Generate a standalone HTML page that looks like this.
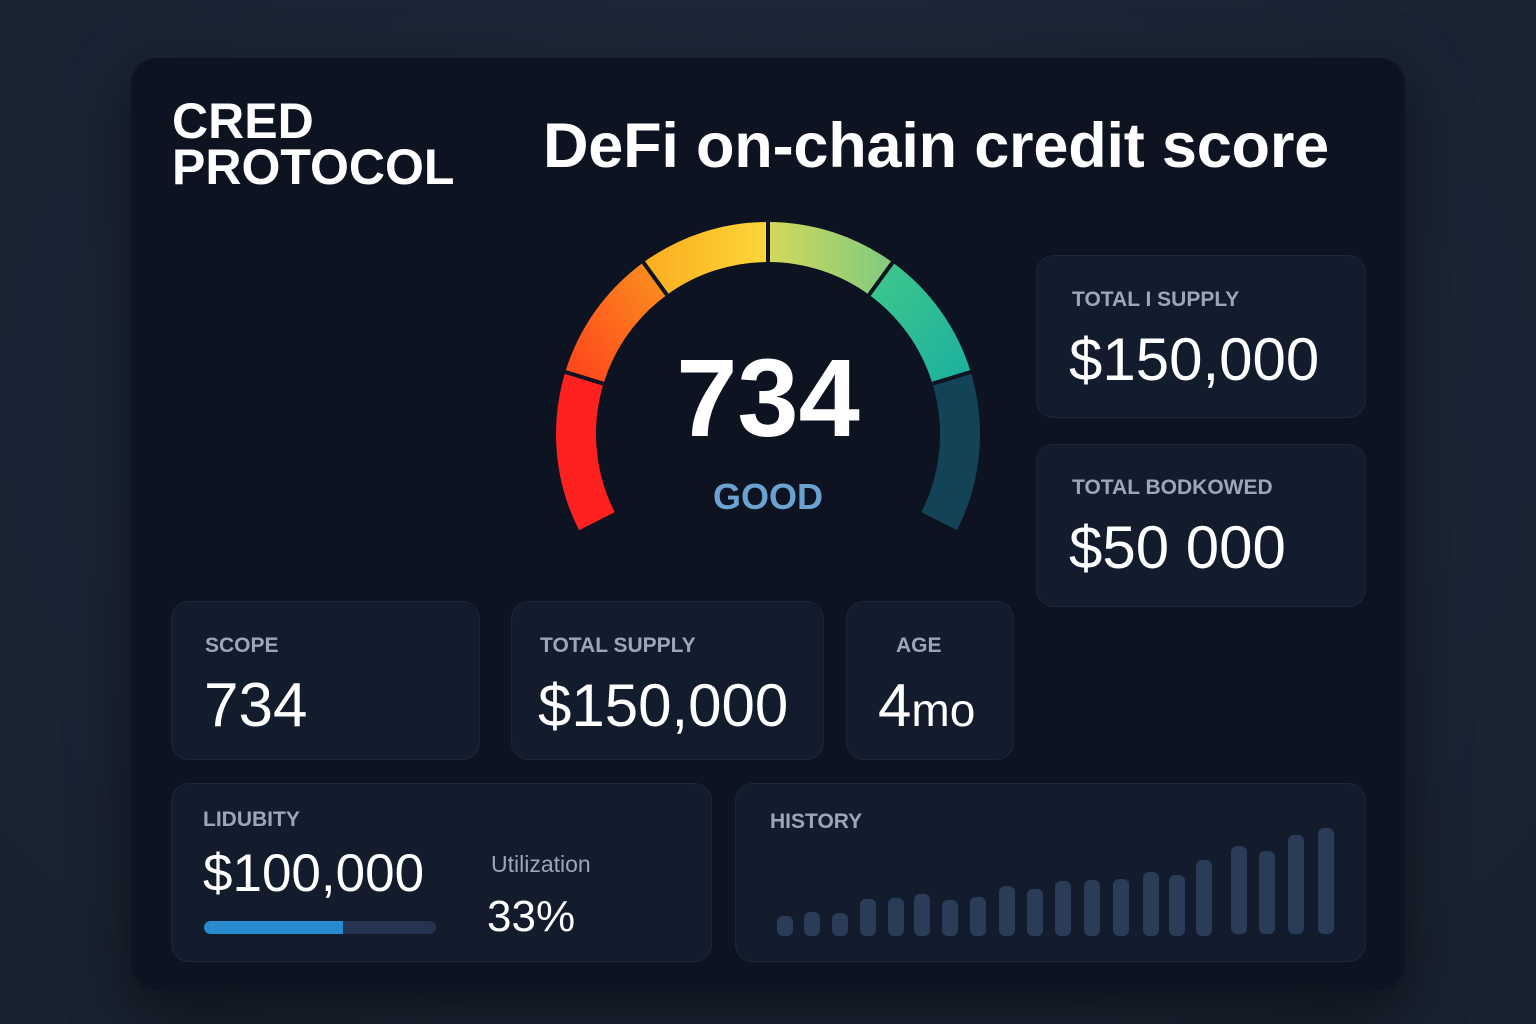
<!DOCTYPE html>
<html><head><meta charset="utf-8"><style>
*{margin:0;padding:0;box-sizing:border-box}
body{width:1536px;height:1024px;overflow:hidden;background:radial-gradient(ellipse at 50% 40%,#222d3e 0%,#1b2535 60%,#18212f 100%);font-family:"Liberation Sans",sans-serif;position:relative}
.main{position:absolute;left:131px;top:58px;width:1274px;height:932px;background:#0d1320;border-radius:26px;box-shadow:0 20px 60px rgba(0,0,0,.5)}
.c{position:absolute;background:#131c2c;border:1px solid #1d2739;border-radius:18px}
.t{position:absolute;white-space:nowrap}
.lab{color:#9ba6b6;font-weight:bold;font-size:21px}
.val{color:#fff;font-size:58px}
</style></head><body>
<div class="main"></div>
<div class="t" style="left:172px;top:98px;color:#fff;font-weight:bold;font-size:50px;line-height:46px">CRED<br>PROTOCOL</div>
<div class="t" style="left:543px;top:110px;color:#fff;font-size:63px;font-weight:bold;letter-spacing:-0.2px">DeFi on-chain credit score</div>

<svg style="position:absolute;left:0;top:0" width="1536" height="1024">
<defs>
<linearGradient id="g1" x1="0" y1="1" x2="1" y2="0"><stop offset="0" stop-color="#ff4a1c"/><stop offset="1" stop-color="#fb8a1f"/></linearGradient>
<linearGradient id="g2" x1="0" y1="0" x2="1" y2="0"><stop offset="0" stop-color="#fbb022"/><stop offset="1" stop-color="#fcd63a"/></linearGradient>
<linearGradient id="g3" x1="0" y1="0" x2="1" y2="0"><stop offset="0" stop-color="#d3d95a"/><stop offset="1" stop-color="#86cc7c"/></linearGradient>
<linearGradient id="g4" x1="0" y1="0" x2="1" y2="1"><stop offset="0" stop-color="#3cc58c"/><stop offset="1" stop-color="#1fb39e"/></linearGradient>
</defs>
<g fill="none" stroke-width="40">
<path d="M596.9 521.2 A192 192 0 0 1 584.4 377.9" stroke="#ff2020"/>
<path d="M584.4 377.9 A192 192 0 0 1 655.1 278.7" stroke="url(#g1)"/>
<path d="M655.1 278.7 A192 192 0 0 1 768 242" stroke="url(#g2)"/>
<path d="M768 242 A192 192 0 0 1 880.9 278.7" stroke="url(#g3)"/>
<path d="M880.9 278.7 A192 192 0 0 1 951.6 377.9" stroke="url(#g4)"/>
<path d="M951.6 377.9 A192 192 0 0 1 939.1 521.2" stroke="#134357"/>
</g>
<g stroke="#0d1320" stroke-width="4">
<line x1="603.5" y1="383.7" x2="563.3" y2="371.4"/>
<line x1="666.9" y1="294.8" x2="642.2" y2="260.8"/>
<line x1="768" y1="262" x2="768" y2="220"/>
<line x1="869.1" y1="294.8" x2="893.8" y2="260.8"/>
<line x1="932.5" y1="383.7" x2="972.7" y2="371.4"/>
</g>
<text x="768" y="436" text-anchor="middle" fill="#fff" font-family="Liberation Sans" font-size="110" font-weight="bold">734</text>
<text x="768" y="509" text-anchor="middle" fill="#6aa2d2" font-family="Liberation Sans" font-size="36" font-weight="bold">GOOD</text>
</svg>

<div class="c" style="left:1036px;top:255px;width:330px;height:163px"></div>
<div class="t lab" style="left:1072px;top:288px">TOTAL I SUPPLY</div>
<div class="t val" style="left:1069px;top:325px;font-size:60px">$150,000</div>
<div class="c" style="left:1036px;top:444px;width:330px;height:163px"></div>
<div class="t lab" style="left:1072px;top:476px">TOTAL BODKOWED</div>
<div class="t val" style="left:1069px;top:513px;font-size:60px">$50 000</div>

<div class="c" style="left:171px;top:601px;width:309px;height:159px"></div>
<div class="t lab" style="left:205px;top:634px">SCOPE</div>
<div class="t val" style="left:204px;top:670px;font-size:62px">734</div>
<div class="c" style="left:511px;top:601px;width:313px;height:159px"></div>
<div class="t lab" style="left:540px;top:634px">TOTAL SUPPLY</div>
<div class="t val" style="left:538px;top:671px;font-size:60px">$150,000</div>
<div class="c" style="left:846px;top:601px;width:168px;height:159px"></div>
<div class="t lab" style="left:896px;top:634px">AGE</div>
<div class="t val" style="left:878px;top:671px;font-size:60px">4<span style="font-size:46px">mo</span></div>

<div class="c" style="left:171px;top:783px;width:541px;height:179px"></div>
<div class="t lab" style="left:203px;top:808px">LIDUBITY</div>
<div class="t" style="left:203px;top:843px;color:#fff;font-size:53px">$100,000</div>
<div style="position:absolute;left:204px;top:921px;width:232px;height:13px;border-radius:7px;background:#243450;overflow:hidden"><div style="width:139px;height:13px;background:#2a8ad0"></div></div>
<div class="t" style="left:491px;top:851px;color:#9ba6b6;font-size:23px">Utilization</div>
<div class="t" style="left:487px;top:892px;color:#fff;font-size:44px">33%</div>

<div class="c" style="left:735px;top:783px;width:631px;height:179px"></div>
<div class="t lab" style="left:770px;top:810px">HISTORY</div>
<svg style="position:absolute;left:0;top:0" width="1536" height="1024"><g fill="#2a3c58">
<rect x="777" y="916" width="16" height="20" rx="6"/>
<rect x="804" y="912" width="16" height="24" rx="6"/>
<rect x="832" y="913" width="16" height="23" rx="6"/>
<rect x="860" y="899" width="16" height="37" rx="6"/>
<rect x="888" y="898" width="16" height="38" rx="6"/>
<rect x="914" y="894" width="16" height="42" rx="6"/>
<rect x="942" y="900" width="16" height="36" rx="6"/>
<rect x="970" y="897" width="16" height="39" rx="6"/>
<rect x="999" y="886" width="16" height="50" rx="6"/>
<rect x="1027" y="889" width="16" height="47" rx="6"/>
<rect x="1055" y="881" width="16" height="55" rx="6"/>
<rect x="1084" y="880" width="16" height="56" rx="6"/>
<rect x="1113" y="879" width="16" height="57" rx="6"/>
<rect x="1143" y="872" width="16" height="64" rx="6"/>
<rect x="1169" y="875" width="16" height="61" rx="6"/>
<rect x="1196" y="860" width="16" height="76" rx="6"/>
<rect x="1231" y="846" width="16" height="88" rx="6"/>
<rect x="1259" y="851" width="16" height="83" rx="6"/>
<rect x="1288" y="835" width="16" height="99" rx="6"/>
<rect x="1318" y="828" width="16" height="106" rx="6"/>
</g></svg>
</body></html>
